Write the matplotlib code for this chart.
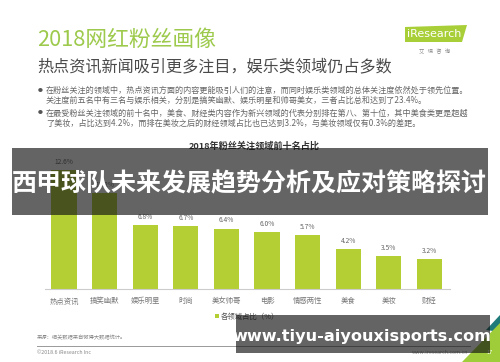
"""2018网红粉丝画像 - 粉丝关注领域前十名占比（复刻）。"""
import matplotlib
matplotlib.use("Agg")
import matplotlib.pyplot as plt
from matplotlib.patches import Rectangle, Polygon

plt.rcParams['font.family'] = ['Noto Sans CJK SC', 'DejaVu Sans']

# 数据
categories = ['热点资讯', '搞笑幽默', '娱乐明星', '时尚', '美女帅哥',
              '电影', '情感两性', '美食', '美妆', '财经']
values = [12.6, 10.2, 6.8, 6.7, 6.4, 6.0, 5.7, 4.2, 3.5, 3.2]
value_labels = ['12.6%', '10.2%', '6.8%', '6.7%', '6.4%',
                '6.0%', '5.7%', '4.2%', '3.5%', '3.2%']

title = '2018网红粉丝画像'
subtitle = '热点资讯新闻吸引更多注目，娱乐类领域仍占多数'
bullets = [
    ['在粉丝关注的领域中，热点资讯方面的内容更能吸引人们的注意，而同时娱乐类领域的总体关注度依然处于领先位置。',
     '关注度前五名中有三名与娱乐相关，分别是搞笑幽默、娱乐明星和帅哥美女，三者占比总和达到了23.4%。'],
    ['在最受粉丝关注领域的前十名中，美食、财经类内容作为新兴领域的代表分别排在第八、第十位，其中美食类更是超越',
     '了美妆，占比达到4.2%，而排在美妆之后的财经领域占比也已达到3.2%，与美妆领域仅有0.3%的差距。'],
]
chart_title = '2018年粉丝关注领域前十名占比'
legend_label = '各领域占比（%）'
overlay_title = '西甲球队未来发展趋势分析及应对策略探讨'
watermark = 'www.tiyu-aiyouxisports.com'

W, H = 500, 362
GREEN = '#b3cf34'


def px(x, y):
    """像素坐标（左上为原点）转为 figure 坐标。"""
    return x / W, 1 - y / H


fig = plt.figure(figsize=(5, 3.62), dpi=100)
fig.patch.set_facecolor('white')

# 标题区
fig.text(*px(37, 40), title, fontsize=15.7, color='#9dca4c', va='center',
         fontweight='light')
fig.text(*px(37, 67), subtitle, fontsize=11.6, color='#4a4a4a', va='center',
         fontweight='medium')

# iResearch 标志
logo = Polygon([px(405, 27), px(467, 25), px(462, 42), px(405, 42)],
               closed=True, transform=fig.transFigure, facecolor='#a9cf38',
               edgecolor='none')
fig.patches.append(logo)
fig.text(*px(434, 34), 'iResearch', fontsize=8, color='white',
         ha='center', va='center', family='DejaVu Sans')
fig.text(*px(435, 51), '艾   瑞   咨   询', fontsize=3.8, color='#888888',
         ha='center', va='center')

# 要点
line_y = [[90, 100], [113, 123]]
for para, ys in zip(bullets, line_y):
    fig.text(*px(40, ys[0]), '●', fontsize=3.5, color='#555555',
             ha='center', va='center')
    for line, y in zip(para, ys):
        fig.text(*px(46, y), line, fontsize=5.85, color='#666666', va='center')

fig.text(*px(254, 146), chart_title, fontsize=6.6, color='#333333',
         ha='center', va='center', fontweight='bold')

# 柱状图
x0, x1 = 45, 450
base = 289
ax = fig.add_axes([x0 / W, 1 - base / H, (x1 - x0) / W, 132 / H])
pos = range(len(categories))
ax.bar(pos, values, width=0.62, color=GREEN, label=legend_label)
for i, (v, lab) in enumerate(zip(values, value_labels)):
    ax.annotate(lab, (i, v), xytext=(0, 3), textcoords='offset points',
                ha='center', va='bottom', fontsize=4.8, color='#666666')
ax.set_xlim(-0.47, 9.51)
ax.set_ylim(0, 14)
ax.set_xticks(list(pos))
ax.set_xticklabels(categories, fontsize=5.3, color='#777777')
ax.tick_params(axis='x', length=0, pad=6)
ax.set_yticks([])
for s in ['top', 'right', 'left']:
    ax.spines[s].set_visible(False)
ax.spines['bottom'].set_color('#cccccc')
ax.spines['bottom'].set_linewidth(0.8)
ax.legend(loc='center', bbox_to_anchor=(0.5, -0.21), frameon=False,
          fontsize=5.3, handlelength=0.5, handleheight=0.5,
          handletextpad=0.3, labelcolor='#555555')

# 页脚
fig.text(*px(37, 338), '来源：相关数据来自微博大数据统计。', fontsize=3.8,
         color='#888888', va='center')
fig.lines.append(plt.Line2D([37 / W, 470 / W], [1 - 346 / H, 1 - 346 / H],
                            transform=fig.transFigure, color='#999999',
                            linewidth=0.7))
fig.text(*px(37, 353), '©2018.6 iResearch Inc', fontsize=3.8,
         color='#888888', va='center')
fig.text(*px(468, 352), 'www.iresearch.com.cn', fontsize=3.8,
         color='#999999', va='center', ha='right')
corner = Polygon([px(462, 362), px(500, 362), px(500, 323)], closed=True,
                 transform=fig.transFigure, facecolor='#9fcd3a',
                 edgecolor='none')
corner2 = Polygon([px(486, 330), px(500, 315), px(500, 332)], closed=True,
                  transform=fig.transFigure, facecolor='#1f7a7a',
                  edgecolor='none')
fig.patches.extend([corner2, corner])
fig.text(*px(490, 352), '17', fontsize=4, color='white', va='center',
         ha='center')

# 覆盖层
band = Rectangle(px(12, 215), 476 / W, 67 / H, transform=fig.transFigure,
                 facecolor='#111111', alpha=0.65, edgecolor='none', zorder=5)
band2 = Rectangle(px(236, 353), 254 / W, 38 / H, transform=fig.transFigure,
                  facecolor='#111111', alpha=0.65, edgecolor='none', zorder=5)
fig.patches.extend([band, band2])
fig.text(*px(249, 184), overlay_title, fontsize=18, color='white',
         ha='center', va='center', fontweight='bold', zorder=6)
fig.text(*px(362, 336), watermark, fontsize=11.6, color='white',
         ha='center', va='center', fontweight='bold', family='DejaVu Sans',
         zorder=6)

fig.savefig('out.png', dpi=100)
